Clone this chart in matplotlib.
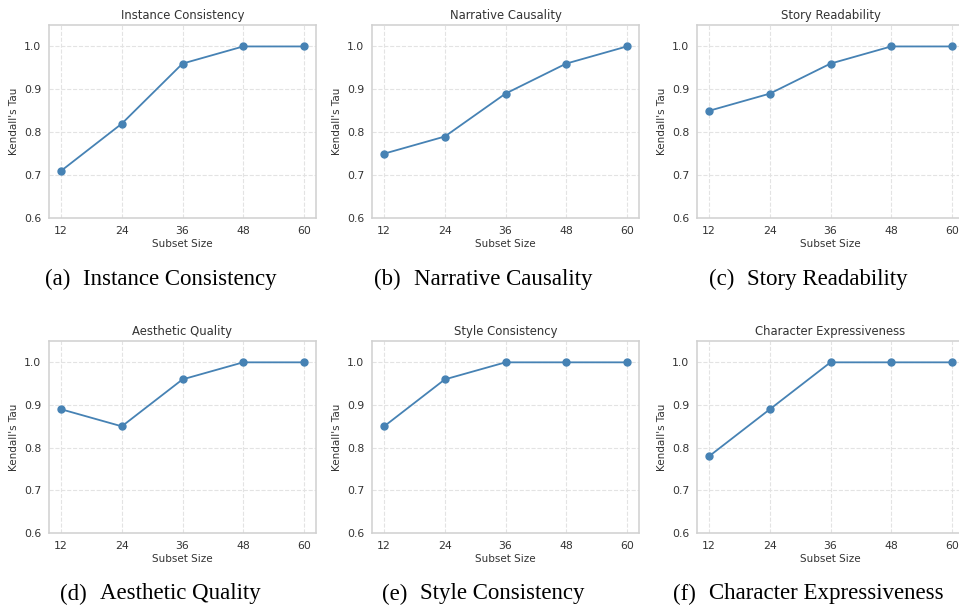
import matplotlib
matplotlib.use("Agg")
import matplotlib.pyplot as plt

subset_sizes = [12, 24, 36, 48, 60]
titles = ["Instance Consistency", "Narrative Causality", "Story Readability",
          "Aesthetic Quality", "Style Consistency", "Character Expressiveness"]
captions = ["(a)", "(b)", "(c)", "(d)", "(e)", "(f)"]
instance_consistency = [0.71, 0.82, 0.96, 1.00, 1.00]
narrative_causality = [0.75, 0.79, 0.89, 0.96, 1.00]
story_readability = [0.85, 0.89, 0.96, 1.00, 1.00]
aesthetic_quality = [0.89, 0.85, 0.96, 1.00, 1.00]
style_consistency = [0.85, 0.96, 1.00, 1.00, 1.00]
character_expressiveness = [0.78, 0.89, 1.00, 1.00, 1.00]
series = [instance_consistency, narrative_causality, story_readability,
          aesthetic_quality, style_consistency, character_expressiveness]
y_ticks = [0.6, 0.7, 0.8, 0.9, 1.0]

W, H = 959, 605
fig = plt.figure(figsize=(W / 100, H / 100), dpi=100)
fig.patch.set_facecolor("white")
renderer = fig.canvas.get_renderer()

lefts = [49, 372, 697]
rows = [(25, 218), (341, 533)]
axw = 267
txt = "#333333"
gap_px = 13

for i, (title, vals, cap) in enumerate(zip(titles, series, captions)):
    r, c = divmod(i, 3)
    top, bot = rows[r]
    l = lefts[c]
    ax = fig.add_axes([l / W, 1 - bot / H, axw / W, (bot - top) / H])
    ax.plot(subset_sizes, vals, color="#4682B4", lw=1.3, marker="o", ms=5)
    ax.set_ylim(0.6, 1.05)
    ax.set_yticks(y_ticks)
    ax.set_xticks(subset_sizes)
    ax.set_yticklabels([f"{v:.1f}" for v in y_ticks])
    ax.tick_params(labelsize=7.8, colors=txt, length=0, pad=5.5)
    ax.grid(True, ls="--", color="#e3e3e3", lw=0.8)
    ax.set_axisbelow(True)
    for s in ax.spines.values():
        s.set_color("#d0d0d0")
        s.set_linewidth(1.1)
    ax.set_title(title, fontsize=8.4, color=txt, pad=4.5)
    ax.set_xlabel("Subset Size", fontsize=7.5, color=txt, labelpad=2.5)
    ax.set_ylabel("Kendall's Tau", fontsize=7.5, color=txt, labelpad=4)

    # caption: "(x)" + gap + title, centred on the sub-figure
    cx_px = l + axw / 2 - 22
    cy = 1 - (bot + 61) / H
    t1 = fig.text(0, cy, cap, ha="left", va="center", fontsize=16.5,
                  family="Liberation Serif", color="black")
    t2 = fig.text(0, cy, title, ha="left", va="center", fontsize=16.5,
                  family="Liberation Serif", color="black")
    w1 = t1.get_window_extent(renderer).width
    w2 = t2.get_window_extent(renderer).width
    total = w1 + gap_px + w2
    x0 = cx_px - total / 2
    t1.set_x(x0 / W)
    t2.set_x((x0 + w1 + gap_px) / W)

fig.savefig("out.png", dpi=100, facecolor="white")
